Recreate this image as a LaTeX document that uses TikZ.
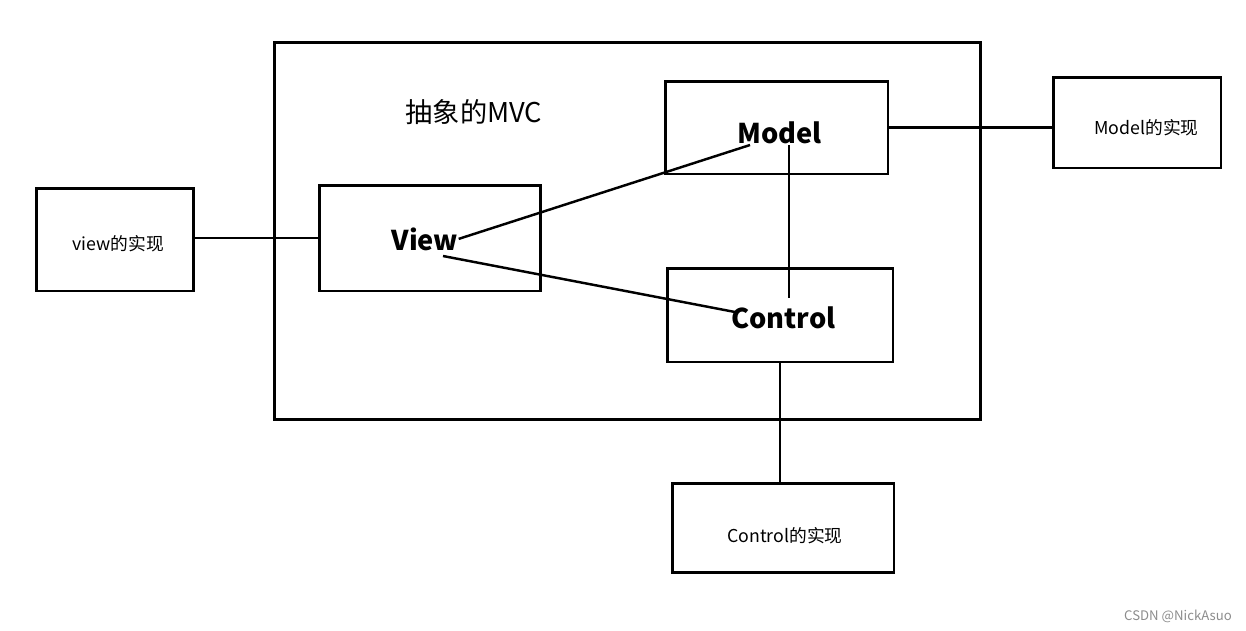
\documentclass[tikz,border=0pt]{standalone}
\usepackage{fontspec}
\setmainfont{Noto Sans CJK SC}
\usetikzlibrary{positioning}

\begin{document}
\begin{tikzpicture}[
    x=0.02cm, y=-0.02cm,
    every node/.style={font=\rmfamily},
    box/.style={draw, line width=1.7pt, inner sep=0pt},
    label/.style={inner sep=0pt, anchor=base},
    bigtext/.style={label, font=\fontsize{15.5}{18}\selectfont\bfseries},
    smalltext/.style={label, font=\fontsize{10.1}{12}\selectfont},
    link/.style={line width=1.4pt}
]
\useasboundingbox (0,0) rectangle (1246,630);

% 外框
\node[box, minimum width=14.14cm, minimum height=7.56cm] (mvc) at (627.5,231) {};
\node[label, font=\fontsize{15.5}{18}\selectfont] (title) at (474,122) {抽象的MVC};

% 内部三个方框
\node[box, minimum width=4.46cm, minimum height=1.86cm] (model) at (776.5,127.5) {};
\node[box, minimum width=4.44cm, minimum height=2.12cm] (view) at (430,238) {};
\node[box, minimum width=4.52cm, minimum height=1.88cm] (control) at (780,315) {};

% 方框里的文字
\node[bigtext] (modeltxt) at (779.5,143) {Model};
\node[bigtext] (viewtxt) at (425,250) {View};
\node[bigtext] (controltxt) at (783.5,328) {Control};

% 外部的实现
\node[box, minimum width=3.16cm, minimum height=2.06cm] (viewimpl) at (115,239.5) {};
\node[box, minimum width=3.36cm, minimum height=1.82cm] (modelimpl) at (1137,122.5) {};
\node[box, minimum width=4.44cm, minimum height=1.78cm] (controlimpl) at (783,527.5) {};

\node[smalltext] at (118,250) {view的实现};
\node[smalltext] at (1146.5,134) {Model的实现};
\node[smalltext] at (785,542) {Control的实现};

% 连接线的端点
\coordinate (vm) at (750,145);
\coordinate (vc1) at (443,256);
\coordinate (vc2) at (735,312);
\coordinate (mc1) at (789,145);
\coordinate (mc2) at (789,298);

% 内部连接线
\draw[link] (viewtxt.east) -- (vm);
\draw[link] (vc1) -- (vc2);
\draw[link] (mc1) -- (mc2);

% 外部连接线
\draw[link] (view.west -| viewimpl.east) -- (view.west);
\draw[link] (model.east) -- (model.east -| modelimpl.west);
\draw[link] (control.south) -- (control.south |- controlimpl.north);

% 水印
\node[label, font=\fontsize{7.5}{9}\selectfont, text=black!45] (mark) at (1178,620) {CSDN @NickAsuo};

\end{tikzpicture}
\end{document}
